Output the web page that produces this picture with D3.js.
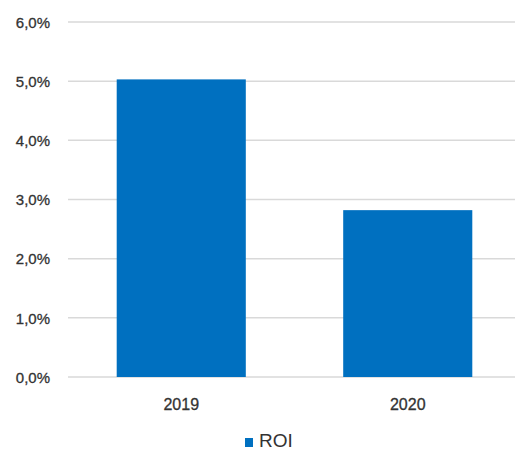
<!DOCTYPE html>
<html><head><meta charset="utf-8">
<script src="https://cdn.jsdelivr.net/npm/d3@7"></script>
<style>body{margin:0;background:#fff}</style>
</head><body>
<script>
const categories = ["2019", "2020"];
const roiValues = [0.0503, 0.0282];
const yTicks = [0, 0.01, 0.02, 0.03, 0.04, 0.05, 0.06];
const seriesName = "ROI";

const W = 515, H = 450;
const svg = d3.select("body").append("svg").attr("width", W).attr("height", H);
const font = "'Liberation Sans', Arial, sans-serif";

const y = d3.scaleLinear().domain([0, 0.06]).range([377, 22]);
const x = d3.scaleBand().domain(categories).range([68, 521]).paddingInner(0.43).paddingOuter(0.215);

const fmt = v => d3.format(".1f")(v * 100).replace(".", ",") + "%";

// gridlines
svg.append("g").selectAll("line").data(yTicks).join("line")
  .attr("x1", 68).attr("x2", W)
  .attr("y1", d => y(d)).attr("y2", d => y(d))
  .attr("stroke", "#d9d9d9").attr("stroke-width", 1.5);

// y axis labels
const yAxis = d3.axisLeft(y).tickValues(yTicks).tickFormat(fmt).tickSize(0).tickPadding(0);
const ya = svg.append("g").attr("transform", "translate(50,0)").call(yAxis);
ya.select(".domain").remove();
ya.selectAll("text").attr("font-family", font).attr("font-size", 15).attr("fill", "#333333")
  .attr("stroke", "#333333").attr("stroke-width", 0.3).attr("dy", "0.35em");

// bars
svg.append("g").selectAll("rect").data(roiValues).join("rect")
  .attr("x", (d, i) => x(categories[i]))
  .attr("width", x.bandwidth())
  .attr("y", d => y(d))
  .attr("height", d => y(0) - y(d))
  .attr("fill", "#0070C0");

// x axis labels
const xAxis = d3.axisBottom(x).tickSize(0).tickPadding(0);
const xa = svg.append("g").attr("transform", "translate(0,410)").call(xAxis);
xa.select(".domain").remove();
xa.selectAll("text").attr("font-family", font).attr("font-size", 16).attr("fill", "#333333")
  .attr("stroke", "#333333").attr("stroke-width", 0.3).attr("dy", 0);

// legend
svg.append("rect").attr("x", 245).attr("y", 438).attr("width", 8).attr("height", 9).attr("fill", "#0070C0");
svg.append("text").attr("x", 259).attr("y", 447).text(seriesName)
  .attr("font-family", font).attr("font-size", 19).attr("fill", "#333333");
</script>
</body></html>
